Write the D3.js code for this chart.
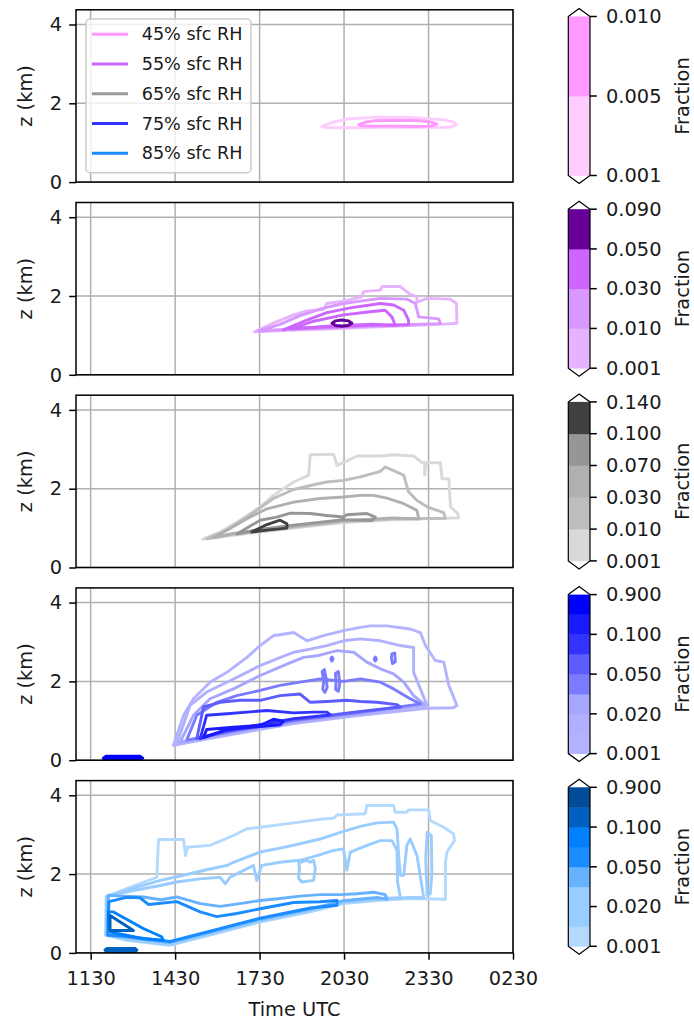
<!DOCTYPE html>
<html>
<head>
<meta charset="utf-8">
<script src="https://cdn.jsdelivr.net/npm/d3@7/dist/d3.min.js"></script>
<style>
  html, body { margin: 0; padding: 0; background: #ffffff; }
  svg text { font-family: "DejaVu Sans", sans-serif; fill: #1a1a1a; }
</style>
</head>
<body>
<svg id="fig" width="694" height="1021"></svg>
<script>
// ---------- axis ticks ----------
const timeTicks = [11.5, 14.5, 17.5, 20.5, 23.5, 26.5];          // hours UTC (24+ = next day)
const timeTickLabels = ["1130", "1430", "1730", "2030", "2330", "0230"];
const heightTicks = [0, 2, 4];                                       // km

// ---------- legend ----------
const legendLabels = ["45% sfc RH", "55% sfc RH", "65% sfc RH", "75% sfc RH", "85% sfc RH"];
const legendColors = ["#ff99ff", "#cc66ff", "#999999", "#3333ff", "#1a8cff"];

// ---------- colour levels for each run ----------
const rh45Levels = [0.001, 0.005, 0.010];
const rh45Ticks  = [0.001, 0.005, 0.010];
const rh45Colors = ["#ffccff", "#ff99ff"];

const rh55Levels = [0.001, 0.010, 0.030, 0.050, 0.090];
const rh55Ticks  = [0.001, 0.010, 0.030, 0.050, 0.090];
const rh55Colors = ["#e6b3ff", "#d998ff", "#cc66ff", "#660099"];

const rh65Levels = [0.001, 0.010, 0.030, 0.070, 0.100, 0.140];
const rh65Ticks  = [0.001, 0.010, 0.030, 0.070, 0.100, 0.140];
const rh65Colors = ["#d9d9d9", "#bdbdbd", "#b0b0b0", "#969696", "#404040"];

const rh75Levels = [0.001, 0.010, 0.020, 0.030, 0.050, 0.070, 0.100, 0.500, 0.900];
const rh75Ticks  = [0.001, 0.020, 0.050, 0.100, 0.900];
const rh75Colors = ["#b3b3ff", "#b0b0ff", "#a6a6ff", "#7b7bff", "#5c5cff", "#3333ff", "#1a1aff", "#0000ff"];

const rh85Levels = [0.001, 0.010, 0.020, 0.030, 0.050, 0.070, 0.100, 0.500, 0.900];
const rh85Ticks  = [0.001, 0.020, 0.050, 0.100, 0.900];
const rh85Colors = ["#b3d9ff", "#99ccff", "#99ccff", "#66b2ff", "#1a8cff", "#0080ff", "#0060c0", "#004c99"];

// ---------- cloud-fraction contours: [time (h UTC), height (km)] ----------
// open contours are closed along the run's cloud-base line
const rh45Base = [[19.71, 1.40], [20.48, 1.38], [22.26, 1.39], [24.04, 1.39], [24.49, 1.46]];
const rh45Contours = [
  { lev: 0, loop: true, pts: [[19.71,1.41],[20.10,1.52],[20.60,1.60],[21.67,1.65],[22.85,1.64],[24.04,1.58],[24.40,1.52],[24.49,1.46],[24.30,1.40],[24.04,1.39],[22.26,1.39],[20.48,1.38],[19.90,1.38]] },
  { lev: 1, loop: true, pts: [[21.02,1.46],[21.25,1.52],[21.60,1.56],[22.26,1.57],[23.20,1.56],[23.60,1.52],[23.80,1.47],[23.60,1.42],[23.00,1.41],[22.26,1.42],[21.50,1.42],[21.10,1.43]] }
];

const rh55Base = [[17.32, 1.09], [18.50, 1.13], [19.89, 1.16], [21.50, 1.21], [22.85, 1.25], [23.92, 1.28], [24.51, 1.31]];
const rh55Contours = [
  { lev: 0, pts: [[17.32,1.09],[17.99,1.31],[18.71,1.52],[19.18,1.62],[19.77,1.66],[19.89,1.81],[20.48,1.87],[21.13,1.98],[21.19,2.11],[21.79,2.15],[21.85,2.24],[22.50,2.24],[22.85,2.04],[23.09,1.98],[23.09,1.84],[23.45,1.94],[24.27,1.92],[24.49,1.81],[24.51,1.31]] },
  { lev: 1, pts: [[17.46,1.11],[18.23,1.28],[18.94,1.50],[19.77,1.69],[20.48,1.81],[21.08,1.87],[21.79,1.94],[22.73,1.92],[23.03,1.81],[23.15,1.47],[23.86,1.42],[23.92,1.30]] },
  { lev: 2, pts: [[18.35,1.14],[19.18,1.39],[19.89,1.58],[20.72,1.70],[21.79,1.81],[22.26,1.77],[22.62,1.64],[22.79,1.39],[22.79,1.27]] },
  { lev: 2, pts: [[18.59,1.16],[19.42,1.36],[20.48,1.52],[21.43,1.60],[21.96,1.64],[22.20,1.47],[22.32,1.25]] },
  { lev: 3, loop: true, pts: [[20.07,1.31],[20.20,1.37],[20.42,1.39],[20.65,1.37],[20.78,1.31],[20.65,1.25],[20.42,1.23],[20.20,1.25]] }
];

const rh65Base = [[15.48, 0.72], [16.50, 0.81], [17.52, 0.90], [18.71, 1.00], [20.48, 1.14], [22.26, 1.21], [24.57, 1.26]];
const rh65Contours = [
  { lev: 0, pts: [[15.48,0.72],[16.10,0.90],[16.81,1.20],[17.52,1.54],[17.99,1.83],[18.71,2.17],[19.24,2.34],[19.30,2.86],[20.13,2.87],[20.25,2.59],[20.48,2.66],[20.96,2.83],[21.79,2.83],[22.26,2.86],[22.97,2.83],[23.27,2.66],[23.36,2.66],[23.36,2.35],[23.42,2.66],[23.92,2.66],[23.98,2.25],[24.22,2.25],[24.28,1.54],[24.54,1.37],[24.57,1.26]] },
  { lev: 1, pts: [[15.62,0.73],[16.40,0.97],[17.05,1.28],[17.99,1.75],[18.71,1.98],[19.42,2.10],[19.89,2.17],[20.48,2.21],[21.08,2.30],[21.79,2.44],[21.96,2.55],[22.26,2.46],[22.62,2.34],[22.79,1.92],[23.09,1.70],[23.45,1.54],[24.04,1.39],[24.10,1.25]] },
  { lev: 2, pts: [[15.86,0.75],[17.05,1.24],[17.76,1.49],[18.71,1.66],[19.65,1.75],[20.48,1.79],[21.08,1.83],[21.55,1.83],[22.02,1.76],[22.62,1.62],[23.09,1.45],[23.15,1.23]] },
  { lev: 3, pts: [[16.69,0.85],[17.52,1.20],[18.11,1.28],[18.59,1.38],[19.30,1.37],[19.89,1.32],[20.48,1.28],[20.60,1.34],[21.31,1.37],[21.61,1.28],[21.49,1.19]] },
  { lev: 4, loop: true, pts: [[17.22,0.90],[17.76,1.09],[18.23,1.20],[18.47,1.11],[18.47,1.00],[17.76,0.95]] }
];

const rh75Base = [[14.44, 0.38], [16.34, 0.63], [18.71, 0.93], [21.08, 1.14], [23.45, 1.32], [24.51, 1.36]];
const rh75Contours = [
  { lev: 0, pts: [[14.44,0.38],[14.80,1.14],[15.15,1.56],[15.74,1.98],[16.34,2.23],[17.05,2.61],[17.52,2.91],[17.99,3.16],[18.71,3.24],[19.18,3.03],[19.77,3.16],[20.48,3.29],[21.08,3.37],[21.43,3.41],[22.02,3.41],[22.85,3.33],[23.21,3.24],[23.39,2.91],[23.74,2.53],[24.04,2.49],[24.22,1.90],[24.51,1.39],[24.39,1.33]] },
  { lev: 1, pts: [[14.56,0.42],[15.03,1.39],[15.62,1.73],[16.34,1.98],[17.05,2.23],[17.52,2.40],[18.11,2.57],[18.71,2.74],[19.30,2.82],[19.89,2.91],[20.48,3.03],[21.08,3.08],[21.79,3.03],[22.50,2.91],[22.97,2.86],[22.97,2.23],[23.21,1.81],[23.45,1.39]] },
  { lev: 2, pts: [[14.68,0.46],[15.15,1.14],[15.74,1.56],[16.57,1.81],[17.52,2.15],[18.47,2.44],[19.06,2.61],[19.54,2.65],[20.25,2.78],[20.84,2.74],[21.31,2.49],[21.79,2.32],[22.26,2.19],[22.62,1.98],[22.97,1.64],[23.33,1.43]] },
  { lev: 3, pts: [[14.91,0.51],[15.27,1.14],[15.98,1.47],[16.69,1.64],[17.52,1.77],[18.23,1.90],[18.94,1.98],[19.65,2.06],[20.48,2.00],[21.08,2.06],[21.79,1.98],[22.26,1.81],[22.85,1.56],[23.21,1.43]] },
  { lev: 4, pts: [[15.27,0.55],[15.51,1.35],[16.10,1.47],[16.81,1.52],[17.52,1.52],[18.23,1.64],[18.94,1.68],[19.30,1.47],[19.89,1.49],[20.60,1.52],[21.08,1.49],[21.67,1.47],[22.38,1.41],[22.50,1.35]] },
  { lev: 5, pts: [[15.39,0.55],[15.62,1.14],[16.34,1.18],[17.05,1.22],[17.76,1.26],[18.71,1.20],[19.42,1.22],[19.89,1.22],[20.01,1.15]] },
  { lev: 6, pts: [[15.51,0.58],[15.62,0.78],[16.57,0.84],[17.52,0.88],[17.99,1.04],[18.35,0.99],[18.23,0.90]] },
  { lev: 3, loop: true, pts: [[19.72,2.25],[19.78,2.00],[19.74,1.80],[19.82,1.72],[19.90,1.85],[19.86,2.10],[19.80,2.30]] },
  { lev: 3, loop: true, pts: [[20.19,2.20],[20.30,2.25],[20.35,1.95],[20.30,1.75],[20.20,1.80],[20.22,2.00]] },
  { lev: 3, loop: true, pts: [[20.03,2.57],[20.07,2.62],[20.11,2.57],[20.07,2.52]] },
  { lev: 3, loop: true, pts: [[21.57,2.57],[21.61,2.62],[21.65,2.57],[21.61,2.52]] },
  { lev: 3, loop: true, pts: [[22.20,2.70],[22.30,2.72],[22.32,2.50],[22.22,2.45],[22.18,2.60]] },
  { lev: 7, loop: true, fill: true, pts: [[11.95,0.05],[12.05,0.10],[13.25,0.10],[13.35,0.05],[13.25,0.00],[12.05,0.00]] }
];

const rh85Base = [[12.04, 0.41], [12.78, 0.32], [13.97, 0.22], [14.32, 0.19], [15.74, 0.45], [17.52, 0.78], [19.30, 1.04], [20.48, 1.25], [21.67, 1.33], [22.85, 1.38], [24.10, 1.36]];
const rh85Contours = [
  { lev: 0, pts: [[12.03,0.45],[12.05,1.42],[12.78,1.63],[13.85,1.92],[13.91,2.88],[14.80,2.88],[14.87,2.47],[14.94,2.68],[15.74,2.73],[16.57,2.98],[17.05,3.15],[17.52,3.19],[18.71,3.30],[19.77,3.40],[20.13,3.42],[20.25,3.50],[21.25,3.53],[21.31,3.74],[22.26,3.74],[22.32,3.57],[22.73,3.57],[22.79,3.63],[23.51,3.63],[23.56,3.36],[24.04,3.19],[24.39,3.02],[24.42,2.85],[24.16,2.56],[24.10,2.30],[24.10,1.36]] },
  { lev: 1, pts: [[12.05,0.45],[12.07,1.44],[13.97,1.84],[14.80,1.97],[15.62,2.11],[16.34,2.22],[16.57,2.30],[17.05,2.43],[17.52,2.56],[18.23,2.66],[18.94,2.77],[19.65,2.89],[20.37,3.06],[21.08,3.21],[21.67,3.30],[22.26,3.32],[22.38,3.15],[22.44,2.47],[22.50,1.97],[22.62,1.97],[22.73,2.73],[22.85,2.89],[23.09,2.47],[23.33,1.40]] },
  { lev: 2, pts: [[12.07,0.45],[12.13,1.46],[13.97,1.71],[14.56,1.80],[15.39,1.88],[16.10,1.92],[16.28,1.75],[16.45,1.92],[16.81,2.05],[17.28,2.22],[17.40,1.84],[17.58,2.22],[18.23,2.30],[18.94,2.35],[19.54,2.47],[20.13,2.60],[20.48,2.64],[20.60,2.10],[20.72,2.56],[21.31,2.73],[21.79,2.85],[22.20,2.85],[22.38,2.60],[22.40,1.80],[22.50,1.40]] },
  { lev: 2, loop: true, pts: [[18.88,2.35],[19.00,2.30],[19.15,2.35],[19.30,2.30],[19.42,2.35],[19.48,2.14],[19.42,1.84],[19.00,1.80],[18.88,1.90],[18.92,2.14]] },
  { lev: 1, loop: true, pts: [[23.45,3.06],[23.60,2.98],[23.62,2.00],[23.56,1.50],[23.45,1.46],[23.40,2.40]] },
  { lev: 3, pts: [[12.09,0.45],[12.13,1.46],[13.37,1.42],[14.00,1.35],[14.56,1.42],[15.39,1.25],[16.10,1.18],[16.80,1.25],[17.52,1.33],[18.23,1.38],[18.94,1.44],[19.65,1.48],[20.37,1.48],[20.96,1.50],[21.55,1.54],[21.96,1.48],[22.02,1.36]] },
  { lev: 4, pts: [[12.11,0.45],[12.15,1.30],[12.78,1.41],[13.25,1.40],[13.55,1.23],[14.56,1.30],[15.39,1.04],[15.98,0.92],[16.69,1.00],[17.52,1.12],[18.71,1.28],[19.65,1.30],[20.25,1.33],[20.25,1.21]] },
  { lev: 5, loop: true, pts: [[12.13,1.04],[12.31,1.04],[13.37,0.62],[14.02,0.41],[14.08,0.32],[13.37,0.36],[12.19,0.53],[12.13,0.78]] },
  { lev: 6, loop: true, pts: [[12.19,0.95],[13.02,0.57],[12.19,0.57]] },
  { lev: 6, loop: true, fill: true, pts: [[12.01,0.07],[12.07,0.11],[13.08,0.11],[13.14,0.07],[13.08,0.03],[12.07,0.03]] }
];

// ---------- layout ----------
const svg = d3.select("#fig");
const axLeft = 76, axRight = 513, axH = 172.3, axTop0 = 9.8, axStep = 192.7;
const zMax = 4.373;
const cbLeft = 568.3, cbW = 21.7, cbExt = 8.0, cbLen = 175;
const tickLen = 6.8, fs = 19.4;

const x = d3.scaleLinear().domain([10.98, 26.5]).range([axLeft, axRight]);

const panels = [
  { levels: rh45Levels, ticks: rh45Ticks, colors: rh45Colors, base: rh45Base, contours: rh45Contours },
  { levels: rh55Levels, ticks: rh55Ticks, colors: rh55Colors, base: rh55Base, contours: rh55Contours },
  { levels: rh65Levels, ticks: rh65Ticks, colors: rh65Colors, base: rh65Base, contours: rh65Contours },
  { levels: rh75Levels, ticks: rh75Ticks, colors: rh75Colors, base: rh75Base, contours: rh75Contours },
  { levels: rh85Levels, ticks: rh85Ticks, colors: rh85Colors, base: rh85Base, contours: rh85Contours }
];

// close an open contour back along the cloud-base line
function closeOnBase(pts, base, off) {
  const h0 = pts[0][0], h1 = pts[pts.length - 1][0];
  const back = base.filter(b => b[0] > h0 + 0.02 && b[0] < h1 - 0.02)
                   .map(b => [b[0], b[1] + off]).reverse();
  return pts.concat(back);
}

panels.forEach((p, i) => {
  const top = axTop0 + i * axStep, bottom = top + axH;
  const y = d3.scaleLinear().domain([0, zMax]).range([bottom, top]);
  const g = svg.append("g");

  const clipId = "clip" + i;
  svg.append("clipPath").attr("id", clipId)
    .append("rect").attr("x", axLeft).attr("y", top).attr("width", axRight - axLeft).attr("height", axH);

  // grid
  g.append("g").selectAll("line").data(timeTicks).join("line")
    .attr("x1", d => x(d)).attr("x2", d => x(d)).attr("y1", top).attr("y2", bottom)
    .attr("stroke", "#b0b0b0").attr("stroke-width", 1.5);
  g.append("g").selectAll("line").data(heightTicks).join("line")
    .attr("x1", axLeft).attr("x2", axRight).attr("y1", d => y(d)).attr("y2", d => y(d))
    .attr("stroke", "#b0b0b0").attr("stroke-width", 1.5);

  // contours
  const line = d3.line().x(d => x(d[0])).y(d => y(d[1]));
  const cg = g.append("g").attr("clip-path", `url(#${clipId})`);
  let openCount = 0;
  p.contours.forEach(c => {
    let pts = c.pts;
    if (!c.loop) { pts = closeOnBase(c.pts, p.base, openCount * 0.025); openCount++; }
    const col = p.colors[c.lev];
    cg.append("path").attr("d", line(pts) + "Z")
      .attr("fill", c.fill ? col : "none")
      .attr("stroke", col).attr("stroke-width", 2.9)
      .attr("stroke-linejoin", "round").attr("stroke-linecap", "round");
  });

  // y axis
  const ya = g.append("g").attr("transform", `translate(${axLeft},0)`)
    .call(d3.axisLeft(y).tickValues(heightTicks).tickFormat(d3.format("d")).tickSize(tickLen).tickPadding(7.2));
  ya.select(".domain").remove();
  ya.selectAll("line").attr("stroke", "#000").attr("stroke-width", 1.5);
  ya.selectAll("text").attr("font-size", fs).attr("font-family", "DejaVu Sans").attr("fill", "#1a1a1a");

  svg.append("text").attr("transform", `translate(31.5,${(top + bottom) / 2}) rotate(-90)`)
    .attr("text-anchor", "middle").attr("font-size", fs).text("z (km)");

  // x axis on the last panel
  if (i === panels.length - 1) {
    const xa = g.append("g").attr("transform", `translate(0,${bottom})`)
      .call(d3.axisBottom(x).tickValues(timeTicks).tickFormat((d, k) => timeTickLabels[k]).tickSize(tickLen));
    xa.select(".domain").remove();
    xa.selectAll("line").attr("stroke", "#000").attr("stroke-width", 1.5);
    xa.selectAll("text").attr("font-size", fs).attr("font-family", "DejaVu Sans").attr("fill", "#1a1a1a")
      .attr("y", 32.3).attr("dy", null);
    svg.append("text").attr("x", (axLeft + axRight) / 2).attr("y", bottom + 63)
      .attr("text-anchor", "middle").attr("font-size", fs).text("Time UTC");
  }

  // frame
  g.append("rect").attr("x", axLeft).attr("y", top).attr("width", axRight - axLeft).attr("height", axH)
    .attr("fill", "none").attr("stroke", "#000").attr("stroke-width", 1.5);

  // colour bar
  const cbTop = top - 1.3, cbBot = cbTop + cbLen;
  const cy = d3.scalePoint().domain(p.levels).range([cbBot - cbExt, cbTop + cbExt]);
  const cb = svg.append("g");
  const xm = cbLeft + cbW / 2;
  cb.append("path").attr("d", `M${cbLeft},${cbTop + cbExt} L${xm},${cbTop} L${cbLeft + cbW},${cbTop + cbExt} Z`).attr("fill", "#ffffff");
  cb.append("path").attr("d", `M${cbLeft},${cbBot - cbExt} L${xm},${cbBot} L${cbLeft + cbW},${cbBot - cbExt} Z`).attr("fill", "#ffffff");
  cb.selectAll("rect.band").data(p.colors).join("rect").attr("class", "band")
    .attr("x", cbLeft).attr("width", cbW)
    .attr("y", (d, k) => cy(p.levels[k + 1]))
    .attr("height", (d, k) => cy(p.levels[k]) - cy(p.levels[k + 1]) + 0.4)
    .attr("fill", d => d);
  cb.append("path")
    .attr("d", `M${cbLeft},${cbTop + cbExt} L${xm},${cbTop} L${cbLeft + cbW},${cbTop + cbExt} L${cbLeft + cbW},${cbBot - cbExt} L${xm},${cbBot} L${cbLeft},${cbBot - cbExt} Z`)
    .attr("fill", "none").attr("stroke", "#000").attr("stroke-width", 1.2);
  const ct = cb.append("g").selectAll("g").data(p.ticks).join("g")
    .attr("transform", d => `translate(${cbLeft + cbW},${cy(d)})`);
  ct.append("line").attr("x2", tickLen).attr("stroke", "#000").attr("stroke-width", 1.5);
  ct.append("text").attr("x", 37.2 - cbW + 0.5).attr("dy", "0.35em").attr("font-size", fs)
    .text(d => d3.format(".3f")(d));
  svg.append("text").attr("transform", `translate(688.5,${(top + bottom) / 2}) rotate(-90)`)
    .attr("text-anchor", "middle").attr("font-size", fs).text("Fraction");
});

// legend in the first panel
const lg = svg.append("g");
lg.append("rect").attr("x", 86).attr("y", 19).attr("width", 165).attr("height", 153.7).attr("rx", 4)
  .attr("fill", "#ffffff").attr("fill-opacity", 0.8).attr("stroke", "#cccccc").attr("stroke-width", 1.5);
const le = lg.selectAll("g.entry").data(legendLabels).join("g").attr("class", "entry")
  .attr("transform", (d, k) => `translate(92,${34.3 + k * 29.75})`);
le.append("line").attr("x2", 36).attr("stroke", (d, k) => legendColors[k]).attr("stroke-width", 2.9);
le.append("text").attr("x", 49.7).attr("dy", "0.35em").attr("font-size", 17.6).text(d => d);
</script>
</body>
</html>
